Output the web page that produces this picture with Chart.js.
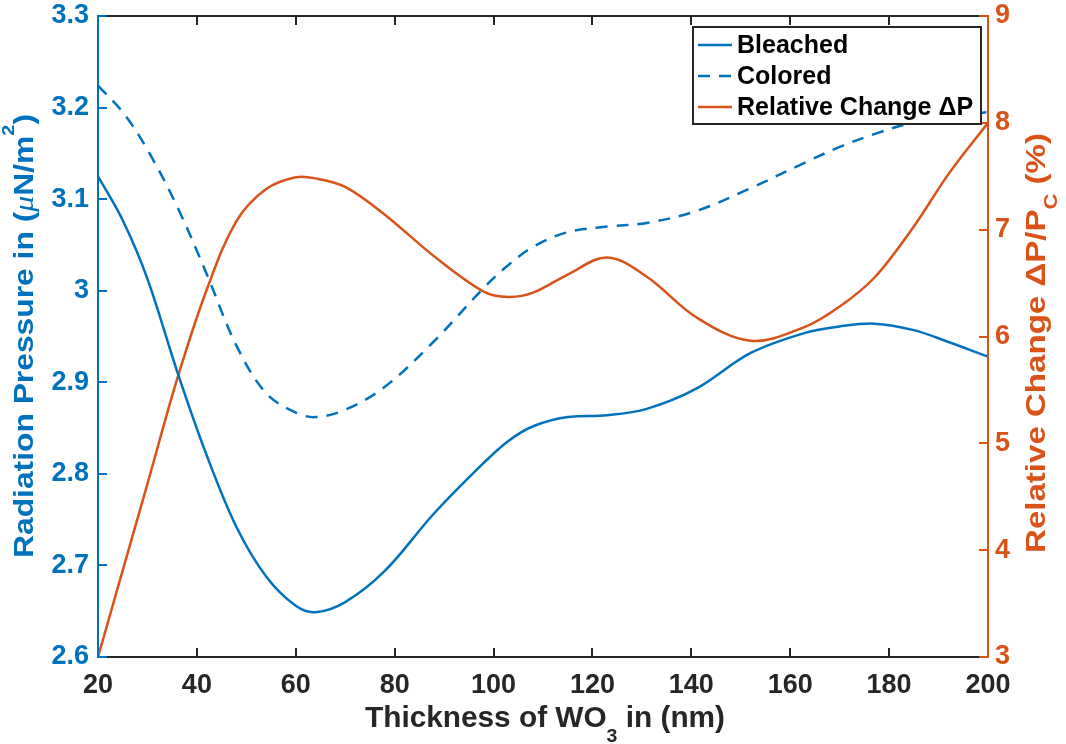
<!DOCTYPE html>
<html><head><meta charset="utf-8">
<script src="https://cdn.jsdelivr.net/npm/chart.js@4.4.1/dist/chart.umd.min.js"></script>
<style>html,body{margin:0;padding:0;background:#fff;}#wrap{width:1066px;height:744px;position:relative;}</style>
</head><body><div id="wrap"><canvas id="c"></canvas></div>
<script>
const thickness = [20,25,30,36,42,48,54,60,64,70,78,88,98,103,108,115,123,131,141,152,163,170,177,185,192,200];
const bleached  = [3.125,3.077,3.013,2.912,2.820,2.742,2.688,2.656,2.649,2.660,2.694,2.757,2.812,2.836,2.852,2.862,2.864,2.871,2.893,2.932,2.954,2.961,2.964,2.957,2.944,2.928];
const colored   = [3.224,3.195,3.154,3.092,3.018,2.940,2.888,2.867,2.862,2.870,2.895,2.945,3.003,3.028,3.048,3.064,3.070,3.074,3.087,3.112,3.140,3.157,3.171,3.184,3.190,3.195];
const relChange = [3.00,3.81,4.62,5.60,6.44,7.08,7.38,7.49,7.48,7.40,7.14,6.75,6.42,6.37,6.41,6.58,6.74,6.56,6.18,5.96,6.09,6.28,6.55,7.03,7.52,8.00];

const xTickValues = [20,40,60,80,100,120,140,160,180,200];
const xTickLabels = ['20','40','60','80','100','120','140','160','180','200'];
const leftTickValues = [2.6,2.7,2.8,2.9,3.0,3.1,3.2,3.3];
const leftTickLabels = ['2.6','2.7','2.8','2.9','3','3.1','3.2','3.3'];
const rightTickValues = [3,4,5,6,7,8,9];
const rightTickLabels = ['3','4','5','6','7','8','9'];
const seriesNames = ['Bleached','Colored','Relative Change \u0394P'];

const BLUE='#0072BD', ORANGE='#D95319', DARK='#262626';
const FAM='"Liberation Sans", Arial, Helvetica, sans-serif';

function pts(ys){ return thickness.map((x,i)=>({x:x, y:ys[i]})); }
function setTicks(values){ return function(scale){ scale.ticks = values.map(v=>({value:v})); }; }
function labelFrom(values, labels){ return function(v){ const i = values.findIndex(t=>Math.abs(t-v)<1e-9); return i>=0?labels[i]:''; }; }

function drawRich(ctx, segs, cx, cy, angle, target){
  ctx.save();
  ctx.translate(cx, cy); ctx.rotate(angle);
  let w=0; segs.forEach(s=>{ ctx.font=s.font; s.w=ctx.measureText(s.t).width; w+=s.w; });
  const k = target ? target/w : 1;
  ctx.scale(k,1);
  let x=-w/2;
  ctx.textAlign='left'; ctx.textBaseline='alphabetic';
  segs.forEach(s=>{ ctx.font=s.font; ctx.fillStyle=s.color; ctx.fillText(s.t, x, s.dy||0); x+=s.w; });
  ctx.restore();
}

const decor = {
  id:'decor',
  afterDatasetsDraw(chart){
    const ctx=chart.ctx, a=chart.chartArea;
    const sx=chart.scales.x, sy=chart.scales.y, sy2=chart.scales.y2;
    const TL=9;
    ctx.save();
    ctx.lineWidth=2; ctx.lineCap='butt';
    ctx.strokeStyle=DARK;
    ctx.beginPath(); ctx.moveTo(a.left,a.top); ctx.lineTo(a.right,a.top); ctx.stroke();
    xTickValues.forEach(v=>{
      if(v===sx.min||v===sx.max) return;
      const p=Math.round(sx.getPixelForValue(v));
      ctx.beginPath(); ctx.moveTo(p,a.bottom); ctx.lineTo(p,a.bottom-TL); ctx.moveTo(p,a.top); ctx.lineTo(p,a.top+TL); ctx.stroke();
    });
    ctx.strokeStyle=BLUE;
    leftTickValues.forEach(v=>{ const p=Math.round(sy.getPixelForValue(v)); ctx.beginPath(); ctx.moveTo(a.left,p); ctx.lineTo(a.left+TL,p); ctx.stroke(); });
    ctx.beginPath(); ctx.moveTo(a.left,a.top); ctx.lineTo(a.left,a.bottom); ctx.stroke();
    ctx.strokeStyle=ORANGE;
    rightTickValues.forEach(v=>{ const p=Math.round(sy2.getPixelForValue(v)); ctx.beginPath(); ctx.moveTo(a.right,p); ctx.lineTo(a.right-TL,p); ctx.stroke(); });
    ctx.beginPath(); ctx.moveTo(a.right,a.top); ctx.lineTo(a.right,a.bottom); ctx.stroke();

    // legend
    const lx=a.right-295, ly=a.top+11, lw=288, lh=97;
    ctx.fillStyle='#fff'; ctx.fillRect(lx,ly,lw,lh);
    ctx.strokeStyle=DARK; ctx.lineWidth=2; ctx.strokeRect(lx,ly,lw,lh);
    const colors=[BLUE,BLUE,ORANGE], dashes=[[],[12,9],[]];
    ctx.font='bold 25px '+FAM; ctx.textBaseline='middle'; ctx.textAlign='left';
    seriesNames.forEach((n,i)=>{
      const y=ly+18+i*31;
      ctx.strokeStyle=colors[i]; ctx.lineWidth=2.5; ctx.setLineDash(dashes[i]);
      ctx.beginPath(); ctx.moveTo(lx+5,y); ctx.lineTo(lx+39,y); ctx.stroke();
      ctx.setLineDash([]);
      ctx.fillStyle='#000'; ctx.fillText(n, lx+44, y+1);
    });

    // axis titles
    const tf='bold 27px '+FAM;
    drawRich(ctx,[
      {t:'Radiation Pressure in (',font:tf,color:BLUE},
      {t:'\u03bc',font:'italic 27px "Liberation Serif", serif',color:BLUE},
      {t:'N/m',font:tf,color:BLUE},
      {t:'2',font:'bold 17px '+FAM,color:BLUE,dy:-19},
      {t:')',font:tf,color:BLUE}
    ], 33, 336, -Math.PI/2, 444);
    drawRich(ctx,[
      {t:'Relative Change \u0394P/P',font:tf,color:ORANGE},
      {t:'C',font:'bold 18px '+FAM,color:ORANGE,dy:12},
      {t:' (%)',font:tf,color:ORANGE}
    ], 1045, 343, -Math.PI/2, 420);
    drawRich(ctx,[
      {t:'Thickness of WO',font:'bold 29px '+FAM,color:DARK},
      {t:'3',font:'bold 19px '+FAM,color:DARK,dy:15},
      {t:' in (nm)',font:'bold 29px '+FAM,color:DARK}
    ], 545, 727, 0, 360);
    ctx.restore();
  }
};

function noPad(s){ s.paddingTop=0; s.paddingBottom=0; s.paddingLeft=0; s.paddingRight=0; }
const tickFont={family:FAM,size:27,weight:'bold'};
const lineCommon={pointRadius:0,tension:0.35,fill:false,borderWidth:2.5};
new Chart(document.getElementById('c'),{
  type:'line',
  data:{datasets:[
    Object.assign({label:seriesNames[0],data:pts(bleached),yAxisID:'y',borderColor:BLUE},lineCommon),
    Object.assign({label:seriesNames[1],data:pts(colored),yAxisID:'y',borderColor:BLUE,borderDash:[12,9]},lineCommon),
    Object.assign({label:seriesNames[2],data:pts(relChange),yAxisID:'y2',borderColor:ORANGE},lineCommon)
  ]},
  options:{
    responsive:true,maintainAspectRatio:false,animation:false,
    layout:{padding:{top:16,left:0,right:0,bottom:0}},
    plugins:{legend:{display:false},tooltip:{enabled:false}},
    scales:{
      x:{type:'linear',min:20,max:200,
        afterBuildTicks:setTicks(xTickValues),
        afterFit(s){s.height=87; noPad(s);},
        grid:{display:true,drawOnChartArea:false,drawTicks:false},
        border:{display:true,color:DARK,width:2},
        ticks:{callback:labelFrom(xTickValues,xTickLabels),color:DARK,font:tickFont,padding:12,maxRotation:0,autoSkip:false}},
      y:{type:'linear',position:'left',min:2.6,max:3.3,
        afterBuildTicks:setTicks(leftTickValues),
        afterFit(s){s.width=98; noPad(s);},
        grid:{display:true,drawOnChartArea:false,drawTicks:false},
        border:{display:true,color:BLUE,width:2},
        ticks:{callback:labelFrom(leftTickValues,leftTickLabels),color:BLUE,font:tickFont,padding:9,autoSkip:false}},
      y2:{type:'linear',position:'right',min:3,max:9,
        afterBuildTicks:setTicks(rightTickValues),
        afterFit(s){s.width=78; noPad(s);},
        grid:{display:true,drawOnChartArea:false,drawTicks:false},
        border:{display:true,color:ORANGE,width:2},
        ticks:{callback:labelFrom(rightTickValues,rightTickLabels),color:ORANGE,font:tickFont,padding:7,autoSkip:false}}
    }
  },
  plugins:[decor]
});
</script></body></html>
